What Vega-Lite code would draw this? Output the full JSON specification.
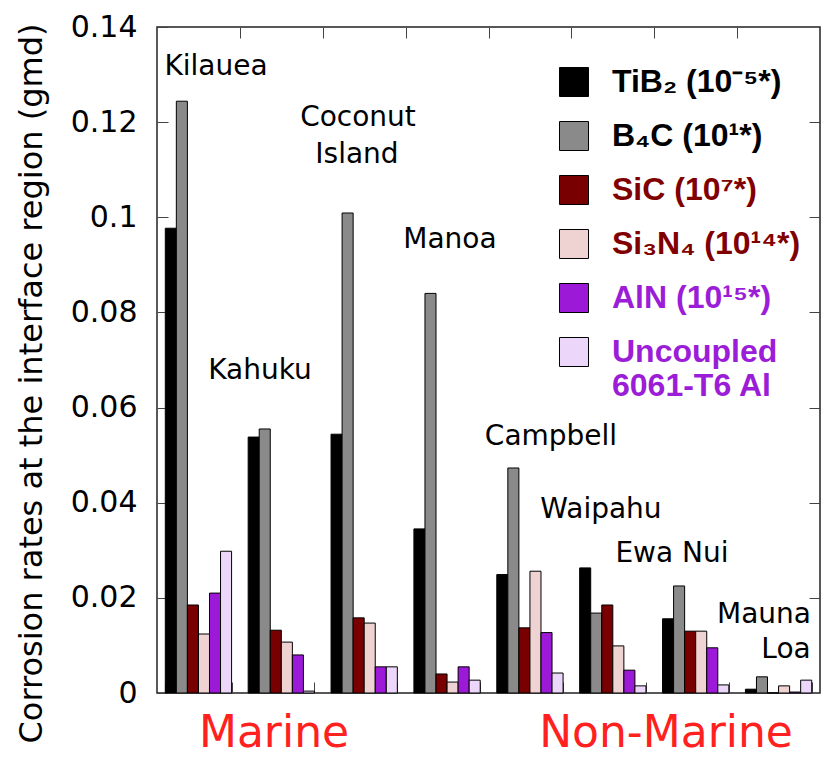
{
  "$schema": "https://vega.github.io/schema/vega-lite/v6.json",
  "width": 663,
  "height": 666,
  "autosize": "none",
  "padding": {"left": 157, "top": 27, "right": 7, "bottom": 66},
  "background": "white",
  "config": {
    "view": {"stroke": "#222222", "strokeWidth": 1.5},
    "font": "DejaVu Sans",
    "axis": {"grid": false}
  },
  "datasets": {
    "bars": [
      {"site": "Kilauea", "series": "TiB2", "rate": 0.0977},
      {"site": "Kilauea", "series": "B4C", "rate": 0.1244},
      {"site": "Kilauea", "series": "SiC", "rate": 0.0185},
      {"site": "Kilauea", "series": "Si3N4", "rate": 0.0124},
      {"site": "Kilauea", "series": "AlN", "rate": 0.0210},
      {"site": "Kilauea", "series": "Uncoupled", "rate": 0.0298},
      {"site": "Kahuku", "series": "TiB2", "rate": 0.0538},
      {"site": "Kahuku", "series": "B4C", "rate": 0.0555},
      {"site": "Kahuku", "series": "SiC", "rate": 0.0132},
      {"site": "Kahuku", "series": "Si3N4", "rate": 0.0107},
      {"site": "Kahuku", "series": "AlN", "rate": 0.0080},
      {"site": "Kahuku", "series": "Uncoupled", "rate": 0.0004},
      {"site": "Coconut Island", "series": "TiB2", "rate": 0.0544},
      {"site": "Coconut Island", "series": "B4C", "rate": 0.1009},
      {"site": "Coconut Island", "series": "SiC", "rate": 0.0158},
      {"site": "Coconut Island", "series": "Si3N4", "rate": 0.0147},
      {"site": "Coconut Island", "series": "AlN", "rate": 0.0055},
      {"site": "Coconut Island", "series": "Uncoupled", "rate": 0.0055},
      {"site": "Manoa", "series": "TiB2", "rate": 0.0345},
      {"site": "Manoa", "series": "B4C", "rate": 0.0840},
      {"site": "Manoa", "series": "SiC", "rate": 0.0040},
      {"site": "Manoa", "series": "Si3N4", "rate": 0.0023},
      {"site": "Manoa", "series": "AlN", "rate": 0.0055},
      {"site": "Manoa", "series": "Uncoupled", "rate": 0.0027},
      {"site": "Campbell", "series": "TiB2", "rate": 0.0249},
      {"site": "Campbell", "series": "B4C", "rate": 0.0473},
      {"site": "Campbell", "series": "SiC", "rate": 0.0137},
      {"site": "Campbell", "series": "Si3N4", "rate": 0.0256},
      {"site": "Campbell", "series": "AlN", "rate": 0.0127},
      {"site": "Campbell", "series": "Uncoupled", "rate": 0.0042},
      {"site": "Waipahu", "series": "TiB2", "rate": 0.0263},
      {"site": "Waipahu", "series": "B4C", "rate": 0.0168},
      {"site": "Waipahu", "series": "SiC", "rate": 0.0185},
      {"site": "Waipahu", "series": "Si3N4", "rate": 0.0099},
      {"site": "Waipahu", "series": "AlN", "rate": 0.0048},
      {"site": "Waipahu", "series": "Uncoupled", "rate": 0.0015},
      {"site": "Ewa Nui", "series": "TiB2", "rate": 0.0156},
      {"site": "Ewa Nui", "series": "B4C", "rate": 0.0225},
      {"site": "Ewa Nui", "series": "SiC", "rate": 0.0130},
      {"site": "Ewa Nui", "series": "Si3N4", "rate": 0.0130},
      {"site": "Ewa Nui", "series": "AlN", "rate": 0.0095},
      {"site": "Ewa Nui", "series": "Uncoupled", "rate": 0.0017},
      {"site": "Mauna Loa", "series": "TiB2", "rate": 0.0008},
      {"site": "Mauna Loa", "series": "B4C", "rate": 0.0034},
      {"site": "Mauna Loa", "series": "SiC", "rate": 0.0},
      {"site": "Mauna Loa", "series": "Si3N4", "rate": 0.0015},
      {"site": "Mauna Loa", "series": "AlN", "rate": 0.0002},
      {"site": "Mauna Loa", "series": "Uncoupled", "rate": 0.0027}
    ],
    "sites": [
      {"name": "Kilauea", "gx": 0.712, "gy": 0.1299},
      {"name": "Kahuku", "gx": 1.243, "gy": 0.0660},
      {"name": "Coconut", "gx": 2.425, "gy": 0.1192},
      {"name": "Island", "gx": 2.413, "gy": 0.1114},
      {"name": "Manoa", "gx": 3.535, "gy": 0.0935},
      {"name": "Campbell", "gx": 4.754, "gy": 0.0521},
      {"name": "Waipahu", "gx": 5.357, "gy": 0.0368},
      {"name": "Ewa Nui", "gx": 6.214, "gy": 0.0275},
      {"name": "Mauna", "gx": 7.324, "gy": 0.0147},
      {"name": "Loa", "gx": 7.590, "gy": 0.0074}
    ],
    "regions": [
      {"name": "Marine", "gx": 1.412, "gy": -0.0113},
      {"name": "Non-Marine", "gx": 6.142, "gy": -0.0113}
    ]
  },
  "layer": [
    {
      "data": {"name": "bars"},
      "mark": {"type": "bar", "stroke": "black", "strokeWidth": 1},
      "encoding": {
        "x": {
          "field": "site", "type": "nominal",
          "sort": ["Kilauea", "Kahuku", "Coconut Island", "Manoa", "Campbell", "Waipahu", "Ewa Nui", "Mauna Loa"],
          "scale": {"paddingInner": 0.2, "paddingOuter": 0.1},
          "axis": {"orient": "bottom", "labels": false, "title": null, "domain": false, "ticks": true, "tickBand": "extent", "tickSize": -11, "tickColor": "#444444", "tickWidth": 1}
        },
        "xOffset": {
          "field": "series", "type": "nominal",
          "sort": ["TiB2", "B4C", "SiC", "Si3N4", "AlN", "Uncoupled"],
          "scale": {"paddingInner": 0, "paddingOuter": 0}
        },
        "y": {
          "field": "rate", "type": "quantitative",
          "scale": {"domain": [0, 0.14], "nice": false},
          "axis": {
            "title": "Corrosion rates at the interface region (gmd)",
            "values": [0, 0.02, 0.04, 0.06, 0.08, 0.1, 0.12, 0.14],
            "format": ".2~f",
            "labelFont": "DejaVu Sans", "labelFontSize": 30, "labelColor": "black",
            "tickSize": -11, "tickColor": "#444444", "tickWidth": 1,
            "labelPadding": 31, "domain": false,
            "titleFont": "DejaVu Sans", "titleFontSize": 32, "titleFontWeight": "normal", "titleColor": "black",
            "titleX": -126, "titleY": 356, "titleAngle": -90, "titleAlign": "center", "titleBaseline": "middle"
          }
        },
        "fill": {
          "field": "series", "type": "nominal",
          "sort": ["TiB2", "B4C", "SiC", "Si3N4", "AlN", "Uncoupled"],
          "scale": {
            "domain": ["TiB2", "B4C", "SiC", "Si3N4", "AlN", "Uncoupled"],
            "range": ["#000000", "#8a8a8a", "#780000", "#efd3d3", "#9b19d7", "#ecd6fa"]
          },
          "legend": {
            "orient": "none", "legendX": 401, "legendY": 39, "title": null, "padding": 0,
            "symbolType": "square", "symbolSize": 841, "symbolStrokeColor": "black", "symbolStrokeWidth": 1, "symbolOpacity": 1,
            "labelFont": "Liberation Sans", "labelFontWeight": "bold", "labelFontSize": 32, "labelOffset": 22,
            "rowPadding": 20, "labelLimit": 400, "labelBaseline": "middle",
            "labelExpr": "datum.value == 'TiB2' ? 'TiB₂ (10⁻⁵*)' : datum.value == 'B4C' ? 'B₄C (10¹*)' : datum.value == 'SiC' ? 'SiC (10⁷*)' : datum.value == 'Si3N4' ? 'Si₃N₄ (10¹⁴*)' : datum.value == 'AlN' ? 'AlN (10¹⁵*)' : ['Uncoupled', '6061-T6 Al']",
            "encode": {
              "labels": {
                "update": {
                  "fill": {"signal": "(datum.value == 'SiC' || datum.value == 'Si3N4') ? '#800000' : (datum.value == 'AlN' || datum.value == 'Uncoupled') ? '#9b1dd8' : 'black'"}
                }
              }
            }
          }
        }
      }
    },
    {
      "data": {"name": "sites"},
      "mark": {"type": "text", "font": "DejaVu Sans", "fontSize": 28, "baseline": "alphabetic", "align": "center", "color": "black"},
      "encoding": {
        "x": {
          "field": "gx", "type": "quantitative",
          "scale": {"domain": [0, 8], "nice": false, "zero": false},
          "axis": {"orient": "top", "values": [1, 2, 3, 4, 5, 6, 7], "labels": false, "title": null, "domain": false, "tickSize": -11, "tickColor": "#444444", "tickWidth": 1}
        },
        "y": {
          "field": "gy", "type": "quantitative",
          "axis": {"orient": "right", "values": [0.02, 0.04, 0.06, 0.08, 0.1, 0.12], "labels": false, "title": null, "domain": false, "tickSize": -11, "tickColor": "#444444", "tickWidth": 1}
        },
        "text": {"field": "name"}
      }
    },
    {
      "data": {"name": "regions"},
      "mark": {"type": "text", "font": "DejaVu Sans", "fontSize": 44, "baseline": "alphabetic", "align": "center", "color": "#ff2020"},
      "encoding": {
        "x": {"field": "gx", "type": "quantitative", "scale": {"domain": [0, 8], "nice": false, "zero": false}, "axis": null},
        "y": {"field": "gy", "type": "quantitative", "axis": null},
        "text": {"field": "name"}
      }
    }
  ],
  "resolve": {"scale": {"x": "independent"}, "axis": {"x": "independent", "y": "independent"}}
}
